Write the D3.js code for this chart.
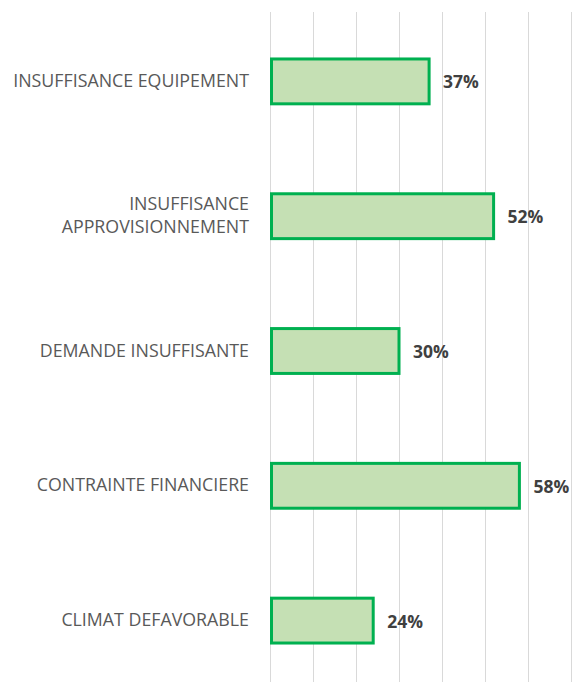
<!DOCTYPE html>
<html>
<head>
<meta charset="utf-8">
<script src="https://cdn.jsdelivr.net/npm/d3@7"></script>
<style>
  html, body { margin:0; padding:0; background:#fff; }
</style>
</head>
<body>
<div id="chart"></div>
<script>
// Data
const categories = [
  ['INSUFFISANCE EQUIPEMENT'],
  ['INSUFFISANCE', 'APPROVISIONNEMENT'],
  ['DEMANDE INSUFFISANTE'],
  ['CONTRAINTE FINANCIERE'],
  ['CLIMAT DEFAVORABLE']
];
const values = [37, 52, 30, 58, 24];
const gridTicks = [0, 10, 20, 30, 40, 50, 60, 70];

const width = 572, height = 682;
const x0 = 270, x1 = 571;
const yTop = 14, yBottom = 688;

const svg = d3.select('#chart').append('svg')
  .attr('width', width).attr('height', height);

const x = d3.scaleLinear().domain([0, 70]).range([x0, x1]);
const y = d3.scaleBand().domain(d3.range(values.length)).range([yTop, yBottom]).paddingInner(0.645).paddingOuter(0.3225);

// gridlines
svg.append('g').selectAll('line')
  .data(gridTicks)
  .join('line')
  .attr('x1', d => Math.round(x(d)) + 0.5).attr('x2', d => Math.round(x(d)) + 0.5)
  .attr('y1', 12).attr('y2', height)
  .attr('stroke', '#d9d9d9').attr('stroke-width', 1);

// bars
svg.append('g').selectAll('rect')
  .data(values)
  .join('rect')
  .attr('x', x(0) + 1.5)
  .attr('y', (d, i) => y(i) + 1.5)
  .attr('width', d => x(d) - x(0) - 1.5)
  .attr('height', y.bandwidth() - 3)
  .attr('fill', '#c5e0b4')
  .attr('stroke', '#00b050')
  .attr('stroke-width', 3);

// value labels
svg.append('g').selectAll('text')
  .data(values)
  .join('text')
  .attr('x', d => x(d) + 14)
  .attr('y', (d, i) => y(i) + y.bandwidth() / 2 + 7)
  .attr('font-family', 'Open Sans, sans-serif')
  .attr('font-size', 17.5)
  .attr('font-weight', 700)
  .attr('fill', '#404040')
  .text(d => d + '%');

// category labels
const lab = svg.append('g').selectAll('text')
  .data(categories)
  .join('text')
  .attr('text-anchor', 'end')
  .attr('font-family', 'Open Sans, sans-serif')
  .attr('font-size', 17.8)
  .attr('fill', '#595959')
  .attr('y', (d, i) => y(i) + y.bandwidth() / 2 + 5.5 - (d.length - 1) * 11.75);

lab.selectAll('tspan')
  .data(d => d)
  .join('tspan')
  .attr('x', 249)
  .attr('dy', (d, i) => i === 0 ? 0 : 23.5)
  .text(d => d);
</script>
</body>
</html>
